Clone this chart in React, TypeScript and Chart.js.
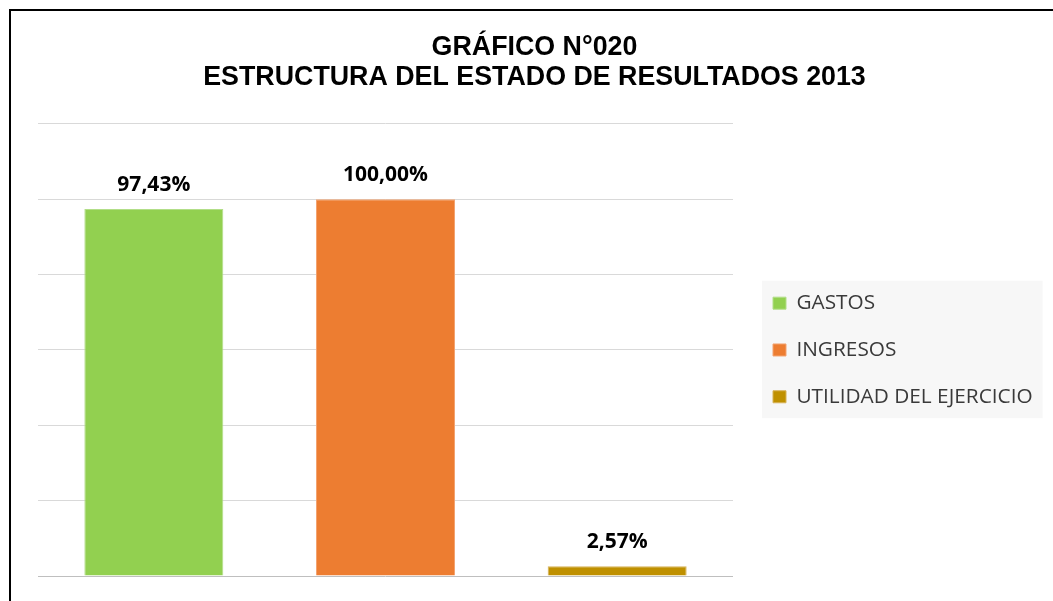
import React, { useEffect, useRef } from 'react';
import { Chart, registerables } from 'chart.js';

Chart.register(...registerables);

const categories = ['GASTOS', 'INGRESOS', 'UTILIDAD DEL EJERCICIO'];
const seriesValues = [97.43, 100.0, 2.57];
const seriesColors = ['#92D050', '#ED7D31', '#BF9000'];
const seriesBorders = ['#B2DE88', '#F3A370', '#D6B257'];
const titleLines = ['GRÁFICO N°020', 'ESTRUCTURA DEL ESTADO DE RESULTADOS 2013'];
const yMin = 0;
const yMax = 120;
const yStep = 20;

const W = 1053;
const H = 601;
const legendFontSize = 20.8;
const legendPadding = 26;
const legendBoxW = 13;
const legendLeftTarget = 747;
const plotLeft = 38;
const plotRight = 733;
const titleCenter = 534.5;

const valueLabels = {
  id: 'valueLabels',
  afterDatasetsDraw(chart: any) {
    const ctx = chart.ctx;
    ctx.save();
    ctx.font = 'bold 21px "Open Sans"';
    ctx.fillStyle = '#000000';
    ctx.textAlign = 'center';
    ctx.textBaseline = 'alphabetic';
    chart.data.datasets.forEach((ds: any, di: number) => {
      const meta = chart.getDatasetMeta(di);
      meta.data.forEach((el: any, j: number) => {
        const v = ds.data[j];
        if (v === null || v === undefined) return;
        ctx.fillText(v.toFixed(2).replace('.', ',') + '%', el.x, el.y - 18);
      });
    });
    ctx.restore();
  },
};

const legendBackground = {
  id: 'legendBackground',
  beforeDraw(chart: any) {
    const lg = chart.legend;
    if (!lg || !lg.legendHitBoxes || !lg.legendHitBoxes.length) return;
    const hb = lg.legendHitBoxes;
    const first = hb[0];
    const last = hb[hb.length - 1];
    const ctx = chart.ctx;
    ctx.save();
    ctx.fillStyle = '#F7F7F7';
    const top = first.top - 12;
    const bottom = last.top + last.height + 11;
    ctx.fillRect(lg.left + 15, top, lg.right - lg.left - 15, bottom - top);
    ctx.restore();
  },
};

export default function App() {
  const ref = useRef<HTMLCanvasElement>(null);

  useEffect(() => {
    const canvas = ref.current;
    if (!canvas) return;
    const m = document.createElement('canvas').getContext('2d')!;
    m.font = legendFontSize + 'px "Open Sans"';
    const maxW = Math.max(...categories.map((c) => m.measureText(c).width));
    const legendWidth = legendPadding + legendBoxW + legendFontSize / 2 + maxW + 10;
    const padRight = Math.max(0, W - legendLeftTarget - legendWidth);
    const padLeft = 2 * titleCenter - (W - padRight);
    const yAxisWidth = plotLeft - padLeft;
    const gapWidth = legendLeftTarget - plotRight;

    const datasets = categories.map((name, i) => ({
      label: name,
      data: seriesValues.map((v, j) => (j === i ? v : null)),
      backgroundColor: seriesColors[i],
      borderColor: seriesBorders[i],
      borderWidth: 1,
      categoryPercentage: 0.6,
      barPercentage: 1.0,
      skipNull: true,
    }));

    const chart = new Chart(canvas, {
      type: 'bar',
      data: { labels: categories, datasets },
      plugins: [valueLabels, legendBackground],
      options: {
        responsive: false,
        animation: false,
        devicePixelRatio: 1,
        layout: {
          padding: { top: 33.3, bottom: 25, left: padLeft, right: padRight },
        },
        scales: {
          x: { display: false },
          y: {
            min: yMin,
            max: yMax,
            ticks: { display: false, stepSize: yStep },
            border: { display: false },
            grid: {
              drawTicks: false,
              tickLength: 0,
              lineWidth: 1,
              color: (ctx: any) => (ctx.tick && ctx.tick.value === 0 ? '#BFBFBF' : '#D9D9D9'),
            },
            afterFit: (s: any) => {
              s.width = yAxisWidth;
            },
          },
          gap: {
            type: 'linear',
            position: 'right',
            display: true,
            ticks: { display: false },
            border: { display: false },
            grid: { display: false, drawTicks: false },
            afterFit: (s: any) => {
              s.width = gapWidth;
            },
          },
        },
        plugins: {
          title: {
            display: true,
            text: titleLines,
            color: '#000000',
            font: { family: '"Liberation Sans", Arial, sans-serif', size: 26.8, weight: 'bold', lineHeight: 1.1 },
            padding: { top: 0, bottom: 31.7 },
          },
          legend: {
            display: true,
            position: 'right',
            align: 'center',
            fullSize: false,
            maxWidth: 500,
            labels: {
              color: '#3A3A3A',
              font: { family: '"Open Sans"', size: legendFontSize },
              boxWidth: legendBoxW,
              boxHeight: 12,
              padding: legendPadding,
            },
          },
          tooltip: { enabled: false },
        },
      } as any,
    });
    return () => chart.destroy();
  }, []);

  return (
    <div
      style={{
        position: 'fixed',
        left: 0,
        top: 0,
        width: W,
        height: H,
        overflow: 'hidden',
        background: '#ffffff',
      }}
    >
      <div
        style={{
          position: 'absolute',
          left: 9,
          top: 9,
          width: 1200,
          height: 800,
          borderLeft: '2px solid #000',
          borderTop: '2px solid #000',
        }}
      />
      <canvas
        ref={ref}
        width={W}
        height={H}
        style={{ position: 'absolute', left: 0, top: 0, width: W, height: H }}
      />
    </div>
  );
}
